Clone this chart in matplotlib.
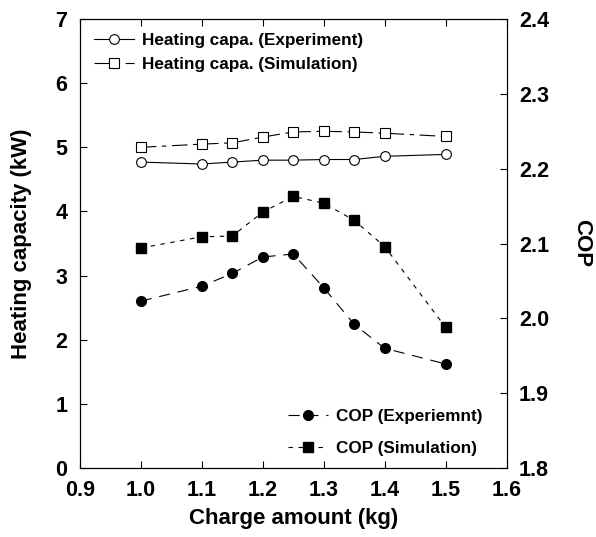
import matplotlib
matplotlib.use("Agg")
import matplotlib.pyplot as plt
from matplotlib.ticker import FormatStrFormatter

# charge amount (kg)
charge = [1.0, 1.1, 1.15, 1.2, 1.25, 1.3, 1.35, 1.4, 1.5]
# heating capacity (kW)
cap_exp = [4.77, 4.74, 4.77, 4.80, 4.80, 4.81, 4.81, 4.86, 4.89]
cap_sim = [5.00, 5.05, 5.07, 5.16, 5.24, 5.25, 5.24, 5.22, 5.17]
# COP
cop_exp = [2.023, 2.043, 2.060, 2.082, 2.086, 2.041, 1.992, 1.960, 1.939]
cop_sim = [2.094, 2.109, 2.110, 2.142, 2.163, 2.154, 2.131, 2.096, 1.988]

x_ticks = [0.9, 1.0, 1.1, 1.2, 1.3, 1.4, 1.5, 1.6]
cop_ticks = [1.8, 1.9, 2.0, 2.1, 2.2, 2.3, 2.4]

plt.rcParams.update({"font.family": "Liberation Sans", "font.weight": "bold"})

fig = plt.figure(figsize=(5.96, 5.37), dpi=100)
ax = fig.add_axes([0.134, 0.1285, 0.716, 0.836])
ax2 = ax.twinx()

ax.plot(charge, cap_exp, color="black", lw=0.8, ls="-", marker="o", ms=7,
        mfc="white", mec="black", mew=0.8, label="Heating capa. (Experiment)")
ax.plot(charge, cap_sim, color="black", lw=0.8, ls=(0, (14, 5, 4, 5)), marker="s", ms=7.5,
        mfc="white", mec="black", mew=0.8, label="Heating capa. (Simulation)")
ax2.plot(charge, cop_exp, color="black", lw=0.8, ls=(0, (10, 7)), marker="o", ms=7,
         mfc="black", mec="black", label="COP (Experiemnt)")
ax2.plot(charge, cop_sim, color="black", lw=0.8, ls=(0, (4, 5)), marker="s", ms=7.5,
         mfc="black", mec="black", label="COP (Simulation)")

ax.set_xlim(0.9, 1.6)
ax.set_ylim(0, 7)
ax2.set_ylim(1.8, 2.4)
ax.set_xticks(x_ticks)
ax2.set_yticks(cop_ticks)
ax.xaxis.set_major_formatter(FormatStrFormatter("%.1f"))
ax2.yaxis.set_major_formatter(FormatStrFormatter("%.1f"))

for sp in list(ax.spines.values()) + list(ax2.spines.values()):
    sp.set_linewidth(0.8)
ax.tick_params(axis="x", direction="in", top=True, length=5, width=0.8, labelsize=15.5, pad=9)
ax.tick_params(axis="y", direction="in", length=5, width=0.8, labelsize=15.5, pad=9)
ax2.tick_params(axis="y", direction="in", length=5, width=0.8, labelsize=15.5, pad=9)

ax.set_xlabel("Charge amount (kg)", fontsize=16, fontweight="bold", va="center")
ax.set_ylabel("Heating capacity (kW)", fontsize=16, fontweight="bold", va="center")
ax2.set_ylabel("COP", fontsize=16, fontweight="bold", rotation=270, va="center")
ax.xaxis.set_label_coords(0.5, -0.113)
ax.yaxis.set_label_coords(-0.136, 0.5)
ax2.yaxis.set_label_coords(1.175, 0.5)

ax.legend(loc="upper left", bbox_to_anchor=(0.0, 1.0), frameon=False, fontsize=12.3,
          handlelength=2.35, borderaxespad=0.4, handletextpad=0.5, labelspacing=0.55)
ax2.legend(loc="lower right", bbox_to_anchor=(0.972, 0.0), frameon=False, fontsize=12.3,
           handlelength=2.35, borderaxespad=0.3, handletextpad=0.5, labelspacing=1.0)

fig.savefig("out.png", dpi=100)
